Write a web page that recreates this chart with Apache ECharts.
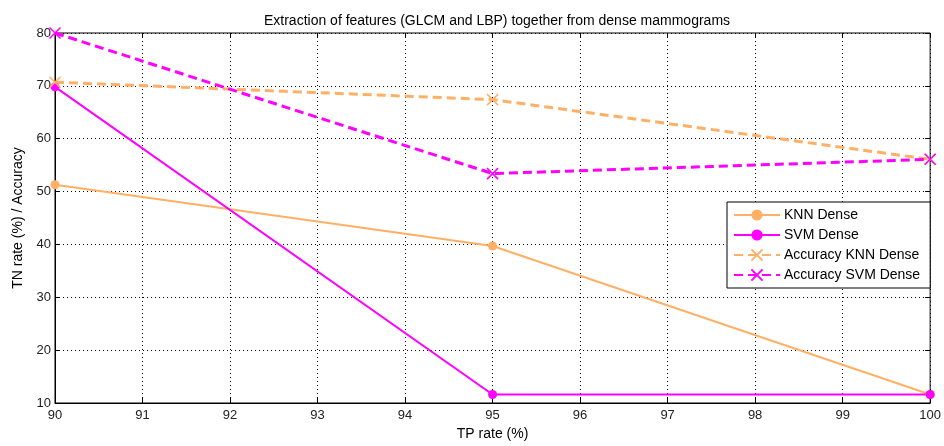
<!DOCTYPE html>
<html>
<head>
<meta charset="utf-8">
<style>
  html, body { margin: 0; padding: 0; background: #fff; }
  #chart { width: 944px; height: 446px; }
</style>
<script src="https://cdn.jsdelivr.net/npm/echarts@6/dist/echarts.min.js"></script>
</head>
<body>
<div id="chart"></div>
<script>
// TP rate (%) on x
const tpRate = [90, 95, 100]
const knnDense = [51.3, 39.7, 11.6]
const svmDense = [69.8, 11.6, 11.6]
const accKnnDense = [70.7, 67.4, 56.1]
const accSvmDense = [80, 53.4, 56.1]

const orange = '#ffb066'
const magenta = '#ff00ff'
const crossPath = 'path://M0,0L10,10M10,0L0,10'
const font = 'Liberation Sans, Arial, sans-serif'

const pairs = ys => tpRate.map((x, i) => [x, ys[i]])

const chart = echarts.init(document.getElementById('chart'))

const solid = (name, data, color, width) => ({
  name,
  type: 'line',
  data: pairs(data),
  symbol: 'circle',
  symbolSize: 9,
  lineStyle: { color, width, type: 'solid' },
  itemStyle: { color },
  animation: false
})

const dashed = (name, data, color) => ({
  name,
  type: 'line',
  data: pairs(data),
  symbol: crossPath,
  symbolSize: 11,
  lineStyle: { color, width: 3, type: [9, 5] },
  itemStyle: { color: 'rgba(0,0,0,0)', borderColor: color, borderWidth: 1.5 },
  animation: false
})

chart.setOption({
  backgroundColor: '#fff',
  textStyle: { fontFamily: font },
  title: {
    text: 'Extraction of features (GLCM and LBP) together from dense mammograms',
    left: 492,
    top: 9,
    textAlign: 'center',
    textStyle: { fontSize: 14, fontWeight: 'normal', color: '#000', fontFamily: font }
  },
  grid: { left: 55, right: 10, top: 33, bottom: 40, show: true, borderColor: '#000', borderWidth: 1 },
  legend: {
    left: 727,
    top: 202,
    orient: 'vertical',
    backgroundColor: '#fff',
    borderColor: '#000',
    borderWidth: 1,
    padding: [6, 10, 6, 6],
    itemGap: 6,
    itemWidth: 46,
    itemHeight: 14,
    textStyle: { fontSize: 14, color: '#000', fontFamily: font, padding: [0, 0, 0, -1] },
    data: ['KNN Dense', 'SVM Dense', 'Accuracy KNN Dense', 'Accuracy SVM Dense']
  },
  xAxis: [{
    type: 'value',
    min: 90,
    max: 100,
    interval: 1,
    name: 'TP rate (%)',
    nameLocation: 'middle',
    nameGap: 24,
    nameTextStyle: { fontSize: 14, color: '#000', fontFamily: font },
    axisLine: { lineStyle: { color: '#000' } },
    axisTick: { inside: true, length: 5, lineStyle: { color: '#000' } },
    axisLabel: { fontSize: 13, color: '#222', margin: 6 },
    splitLine: { show: true, lineStyle: { color: '#000', type: [1, 3], width: 1 } }
  }, {
    type: 'value',
    position: 'top',
    min: 90,
    max: 100,
    interval: 1,
    axisLine: { show: false },
    axisTick: { inside: true, length: 5, lineStyle: { color: '#000' } },
    axisLabel: { show: false },
    splitLine: { show: false }
  }],
  yAxis: [{
    type: 'value',
    min: 10,
    max: 80,
    interval: 10,
    name: 'TN rate (%) / Accuracy',
    nameLocation: 'middle',
    nameGap: 30,
    nameTextStyle: { fontSize: 14, color: '#000', fontFamily: font },
    axisLine: { show: true, lineStyle: { color: '#000' } },
    axisTick: { show: true, inside: true, length: 5, lineStyle: { color: '#000' } },
    axisLabel: { fontSize: 13, color: '#222', margin: 4 },
    splitLine: { show: true, lineStyle: { color: '#000', type: [1, 3], width: 1 } }
  }, {
    type: 'value',
    position: 'right',
    min: 10,
    max: 80,
    interval: 10,
    axisLine: { show: false },
    axisTick: { show: true, inside: true, length: 5, lineStyle: { color: '#000' } },
    axisLabel: { show: false },
    splitLine: { show: false }
  }],
  series: [
    solid('KNN Dense', knnDense, orange, 2),
    solid('SVM Dense', svmDense, magenta, 2),
    dashed('Accuracy KNN Dense', accKnnDense, orange),
    dashed('Accuracy SVM Dense', accSvmDense, magenta)
  ]
})
</script>
</body>
</html>
